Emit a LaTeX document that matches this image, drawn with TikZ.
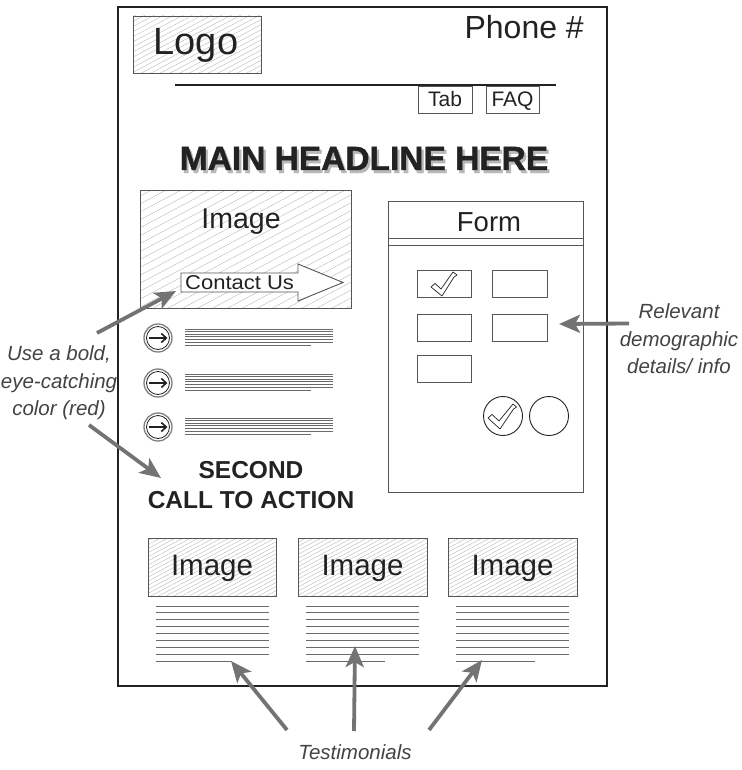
\documentclass[tikz,border=0pt]{standalone}
\usepackage{fontspec}
\setmainfont{Liberation Sans}
\newfontfamily\heavyfont[FakeBold=1.3]{Liberation Sans Bold}
\usetikzlibrary{arrows.meta,patterns.meta}
\definecolor{ink}{HTML}{222222}
\definecolor{boxc}{HTML}{555555}
\definecolor{arrc}{HTML}{737373}
\definecolor{txtl}{HTML}{6A6A6A}
\tikzset{
  page/.style={draw=ink,line width=1.4pt},
  hatchbox/.style={draw=boxc,line width=0.9pt,preaction={fill=white},
     pattern={Lines[angle=28,distance=#1,line width=0.35pt]},pattern color=gray!60},
  hatchbox/.default=4.5pt,
  plainbox/.style={draw=boxc,line width=0.9pt,fill=white},
  lbl/.style={inner sep=0pt,text=ink},
  note/.style={inner sep=0pt,text=ink!85,font=\fontsize{20.5}{27.5}\selectfont\itshape,align=center},
  callout/.style={draw=arrc,line width=3.8pt,-{Stealth[length=21pt,width=18pt,inset=5pt]}},
  tline/.style={draw=txtl,line width=0.9pt},
  bline/.style={draw=txtl,line width=0.8pt},
}
\begin{document}
\begin{tikzpicture}[x=1pt,y=-1pt]
\useasboundingbox (0,0) rectangle (741,770);
% page
\draw[page] (118,7) rectangle (607,686);
% logo
\draw[hatchbox] (133,16) rectangle (261,73);
\node[lbl,font=\fontsize{38}{40}\selectfont,anchor=base] (logo) at (196,55) {Logo};
\node[lbl,font=\fontsize{32}{36}\selectfont,anchor=base east] (phone) at (584,39) {Phone \#};
% header line & tabs
\draw[draw=ink,line width=2.6pt] (175,85) -- (556,85);
\draw[plainbox] (418,86) rectangle (472,113);
\node[lbl,font=\fontsize{21}{24}\selectfont,anchor=base] (tab) at (445,107) {Tab};
\draw[plainbox] (486,86) rectangle (539,113);
\node[lbl,font=\fontsize{21}{24}\selectfont,anchor=base] (faq) at (512.5,107) {FAQ};
% headline with shadow
\node[lbl,font=\fontsize{33.5}{36}\selectfont\heavyfont,anchor=base] (headline) at (364,170)
  {\rlap{\hspace{2.2pt}\raisebox{-3pt}{\textcolor{black!28}{MAIN HEADLINE HERE}}}MAIN HEADLINE HERE};
% main image
\draw[hatchbox=7pt] (140,190) rectangle (351,308);
\node[lbl,font=\fontsize{28.5}{30}\selectfont,anchor=base] (img) at (241,228) {Image};
% contact us arrow
\draw[draw=boxc,line width=0.9pt,fill=white] (181,273) -- (298,273) -- (298,264) -- (343,282.5) -- (298,301) -- (298,292) -- (181,292) -- cycle;
\node[lbl,font=\fontsize{20}{22}\selectfont,anchor=base west] (contact) at (185,289.5) {\scalebox{1.1}[1]{Contact Us}};
\coordinate (contactTip) at (176,291);
% bullets
\foreach \y [count=\i] in {338,383,427}{
  \draw[draw=gray,line width=1.3pt,fill=white] (158,\y) circle (14);
  \draw[draw=ink,line width=0.8pt] (158,\y) circle (11.5);
  \draw[draw=ink,line width=1.6pt,-{Straight Barb[length=5pt,width=9pt]}] (149,\y) -- (167.5,\y);
  \foreach \k in {0,...,5}{
    \draw[bline] (185,\y-9+\k*2.6) -- (333,\y-9+\k*2.6);
  }
  \draw[bline] (185,\y-9+6*2.6+1.2) -- (311,\y-9+6*2.6+1.2);
}
% second call to action
\node[lbl,font=\fontsize{24.5}{30}\selectfont\bfseries,align=center] (cta) at (251,485) {SECOND\\CALL TO ACTION};
\coordinate (ctaTip) at (161,478);
% form
\draw[plainbox] (388,201) rectangle (583,492);
\draw[draw=boxc,line width=0.9pt] (388,238) -- (583,238);
\draw[draw=boxc,line width=0.9pt] (388,245) -- (583,245);
\node[lbl,font=\fontsize{27.5}{30}\selectfont,anchor=base] (form) at (489,231) {Form};
\draw[plainbox] (417,270) rectangle (471,297);
\draw[plainbox] (492,270) rectangle (547,297);
\draw[plainbox] (417,314) rectangle (471,341);
\draw[plainbox] (492,314) rectangle (547,341);
\draw[plainbox] (417,355) rectangle (471,382);
\coordinate (formTip) at (559,324);
% checkmark in box
\draw[draw=ink,line width=0.7pt,fill=white,line join=round]
  (431,287) -- (435,283.5) -- (441,289) -- (453,272) -- (457,275) -- (454,277) -- (442,296) -- cycle;
% circles
\draw[draw=ink,line width=0.9pt,fill=white] (503,416) circle (19.5);
\draw[draw=ink,line width=0.7pt,fill=white,line join=round]
  (488,418) -- (492,414.5) -- (499,421) -- (513,404) -- (516.5,407) -- (513.5,409) -- (500,429) -- cycle;
\draw[draw=ink,line width=0.9pt,fill=white] (549,416) circle (19.5);
% relevant note
\node[note] (rel) at (679,339) {Relevant\\demographic\\details/ info};
\coordinate (relStart) at (629,323.5);
\draw[callout] (relStart) -- (formTip);
% left note
\node[note] (use) at (59,383) {Use a bold,\\eye-catching\\color (red)};
\coordinate (useTop) at (97,333);
\coordinate (useBot) at (89,425);
\draw[callout] (useTop) -- (contactTip);
\draw[callout] (useBot) -- (ctaTip);
% bottom images
\foreach \xa/\xb [count=\i] in {148/276,298/427,448/577}{
  \draw[hatchbox=3.6pt] (\xa,538) rectangle (\xb,596);
  \node[lbl,font=\fontsize{29.5}{30}\selectfont,anchor=base] (timg\i) at ({(\xa+\xb)/2},575) {Image};
}
\foreach \xa/\xs [count=\i] in {156/232,306/385,456/535}{
  \foreach \y in {606,612,619,626,633,640,647,654}{
    \draw[tline] (\xa,\y) -- (\xa+113,\y);
  }
  \draw[tline] (\xa,661) -- (\xs,661);
}
\coordinate (t1) at (231,661);
\coordinate (t2) at (355,646);
\coordinate (t3) at (482,660);
\node[note] (test) at (355,752) {Testimonials};
\coordinate (s1) at (287,730);
\coordinate (s2) at (354,731);
\coordinate (s3) at (429,730);
\draw[callout] (s1) -- (t1);
\draw[callout] (s2) -- (t2);
\draw[callout] (s3) -- (t3);
\end{tikzpicture}
\end{document}
